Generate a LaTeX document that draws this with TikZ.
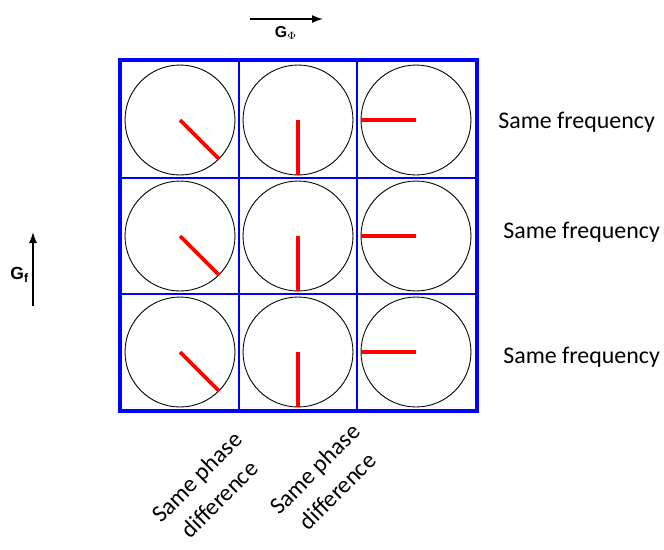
\documentclass[tikz,border=0pt]{standalone}
\usepackage{fontspec}
\setmainfont{Carlito}
\newfontfamily\arialfont{Liberation Sans}
\usepackage{tikz}
\usetikzlibrary{arrows.meta,positioning}

\begin{document}
\begin{tikzpicture}[
  x=0.02cm, y=-0.02cm,
  dial/.style={circle, draw=black, line width=0.5pt, minimum size=2.2cm, inner sep=0pt},
  needle/.style={draw=red, line width=2.2pt},
  cellline/.style={draw=blue, line width=0.6pt},
  gridframe/.style={draw=blue, line width=2pt},
  axis/.style={-{Latex[length=2.2mm,width=1.6mm]}, line width=0.8pt},
  glabel/.style={font=\arialfont\bfseries, inner sep=1pt},
  rowlabel/.style={font=\fontsize{13.6}{16}\selectfont, anchor=west, inner sep=0pt},
  collabel/.style={font=\fontsize{13.6}{18}\selectfont, align=center, rotate=45, inner sep=0pt}
]
\useasboundingbox (0,0) rectangle (664,549);

% grid
\coordinate (gridNW) at (120,60);
\coordinate (gridSE) at (477,411);
\foreach \gx in {239,357} \draw[cellline] (\gx,60) -- (\gx,411);
\foreach \gy in {178,294} \draw[cellline] (120,\gy) -- (477,\gy);
\draw[gridframe] (gridNW) rectangle (gridSE);

% dials, one row per frequency
\foreach \r/\gy in {1/120,2/236,3/352} {
  \node[dial] (d\r a) at (180,\gy) {};
  \node[dial] (d\r b) at (298,\gy) {};
  \node[dial] (d\r c) at (416,\gy) {};
  \draw[needle] (d\r a.center) -- (d\r a.-45);
  \draw[needle] (d\r b.center) -- (d\r b.-90);
  \draw[needle] (d\r c.center) -- (d\r c.180);
}

% row labels
\node[rowlabel] (freq1) at (498,122) {Same frequency};
\node[rowlabel] (freq2) at (503,232) {Same frequency};
\node[rowlabel] (freq3) at (503,357) {Same frequency};

% column labels
\node[collabel] (phase1) at (208,488) {Same phase\\difference};
\node[collabel] (phase2) at (326,480) {Same phase\\difference};

% gradient directions
\coordinate (gphiL) at (250,19);
\coordinate (gphiR) at (323,19);
\draw[axis] (gphiL) -- (gphiR);
\node[glabel, font=\arialfont\bfseries\small] (gphi) at (286,33) {G\textsubscript{$\Phi$}};
\coordinate (gfB) at (33,306);
\coordinate (gfT) at (33,232);
\draw[axis] (gfB) -- (gfT);
\node[glabel, left=1pt of gfB, yshift=0.62cm] (gf) {G\textsubscript{f}};
\end{tikzpicture}
\end{document}
